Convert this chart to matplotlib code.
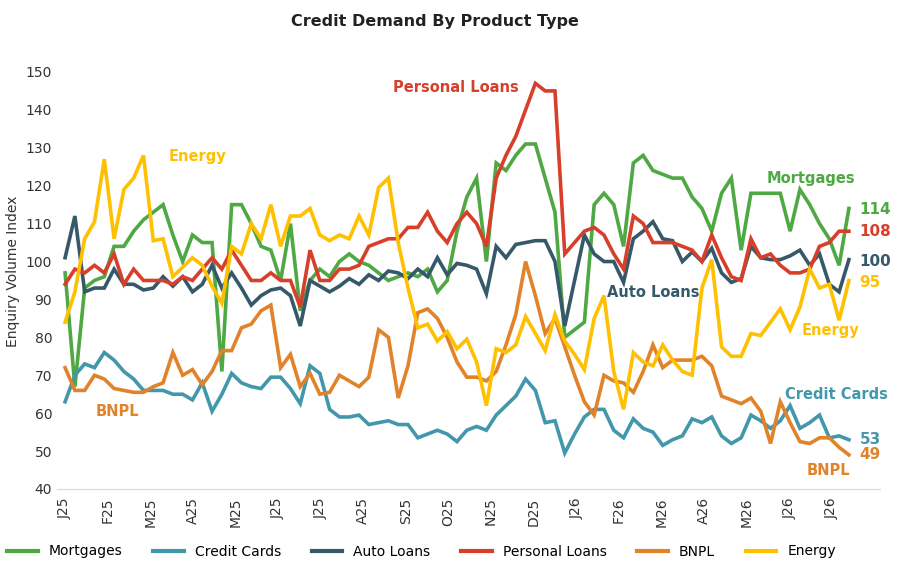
import matplotlib
matplotlib.use("Agg")
import matplotlib.pyplot as plt
from matplotlib.lines import Line2D

# weekly index values, Jan 2025 .. mid Jul 2026
mortgages = [97, 67, 93, 95, 96, 104, 104, 108, 111, 113, 115, 107, 100, 107, 105, 105, 71, 115, 115, 110,
             104, 103, 95, 110, 87, 95, 98, 96, 100, 102, 100, 99, 97, 95, 96, 97, 96, 98, 92, 95,
             108, 117, 122, 100, 126, 124, 128, 131, 131, 122, 113, 80, 82, 84, 115, 118, 115, 104, 126, 128,
             124, 123, 122, 122, 117, 114, 108, 118, 122, 103, 118, 118, 118, 118, 108, 119, 115, 110, 106, 99, 114]
credit_cards = [63, 70, 73, 72, 76, 74, 71, 69, 66, 66, 66, 65, 65, 63.5, 68, 60.5, 65, 70.5, 68, 67,
                66.5, 69.5, 69.5, 66.5, 62.5, 72.5, 70.5, 61, 59, 59, 59.5, 57, 57.5, 58, 57, 57, 53.5, 54.5, 55.5, 54.5,
                52.5, 55.5, 56.5, 55.5, 59.5, 62, 64.5, 69, 66, 57.5, 58, 49.5, 54.5, 59, 61, 61, 55.5, 53.5, 58.5, 56,
                55, 51.5, 53, 54, 58.5, 57.5, 59, 54, 52, 53.5, 59.5, 58, 56, 58, 62, 56, 57.5, 59.5, 53.5, 54, 53]
auto_loans = [101, 112, 92, 93, 93, 98, 94, 94, 92.5, 93, 96, 93.5, 96, 92, 94, 99, 93, 97, 93, 88.5,
              91, 92.5, 93, 91, 83, 95, 93.5, 92, 93.5, 95.5, 94, 96.5, 95, 97.5, 97, 95.5, 98, 96, 101, 96.5,
              99.5, 99, 98, 91.5, 104, 101, 104.5, 105, 105.5, 105.5, 100, 83, 95, 107, 102, 100, 100, 94.5, 106, 108,
              110.5, 106, 105.5, 100, 102.5, 100, 103.5, 97, 94.5, 95.5, 104, 101, 100.5, 100.5, 101.5, 103, 99, 102, 94, 92, 100.5]
personal_loans = [94, 98, 97, 99, 97, 102, 94, 98, 95, 95, 95, 94, 96, 95, 98, 101, 98, 103, 99, 95,
                  95, 97, 95, 95, 88, 103, 95, 95, 98, 98, 99, 104, 105, 106, 106, 109, 109, 113, 108, 105,
                  110, 113, 110, 104, 122, 128, 133, 140, 147, 145, 145, 102, 105, 108, 109, 107, 102, 98, 112, 110,
                  105, 105, 105, 104, 103, 100, 107, 101, 96, 95, 106, 101, 102, 99, 97, 97, 98, 104, 105, 108, 108]
bnpl = [72, 66, 66, 70, 69, 66.5, 66, 65.5, 65.5, 67, 68, 76, 70, 71.5, 67.5, 71, 76.5, 76.5, 82.5, 83.5,
        87, 88.5, 72, 75.5, 67, 70.5, 65, 65.5, 70, 68.5, 67, 69.5, 82, 80, 64, 72.5, 86.5, 87.5, 85, 80,
        73.5, 69.5, 69.5, 68.5, 71, 78, 86, 100, 91, 81, 85, 77.5, 70, 63, 59.5, 70, 68.5, 68, 65.5, 71,
        78, 72, 74, 74, 74, 75, 72.5, 64.5, 63.5, 62.5, 64, 60.5, 52, 63, 57.5, 52.5, 52, 53.5, 53.5, 51, 49]
energy = [84, 92, 106, 110.5, 127, 106, 119, 122, 128, 105.5, 106, 96, 98.5, 101, 99, 93.5, 89, 104, 102, 110,
          106, 115, 104, 112, 112, 114, 107, 105.5, 107, 106, 112, 107, 119.5, 122, 105, 93, 82.5, 83.5, 79, 81.5,
          77, 79.5, 73.5, 62, 77, 76, 78, 85.5, 81, 76.5, 86, 79, 75.5, 71.5, 85, 91, 71, 61, 76, 73.5,
          72.5, 78, 74, 71, 70, 93, 100.5, 77.5, 75, 75, 81, 80.5, 84, 87.5, 82, 88, 98, 93, 94, 84.5, 95]

month_labels = ["J25", "F25", "M25", "A25", "M25", "J25", "J25", "A25", "S25", "O25",
                "N25", "D25", "J26", "F26", "M26", "A26", "M26", "J26", "J26"]

series = [
    ("Mortgages", mortgages, "#4ea843"),
    ("Credit Cards", credit_cards, "#4397ab"),
    ("Auto Loans", auto_loans, "#36596a"),
    ("Personal Loans", personal_loans, "#d83f2b"),
    ("BNPL", bnpl, "#e0832a"),
    ("Energy", energy, "#ffc000"),
]

# one point per week, x in months
x = [i * 0.23 for i in range(len(mortgages))]

fig = plt.figure(figsize=(8.97, 5.71), dpi=100)
ax = fig.add_axes([57 / 897, (571 - 489) / 571, 823 / 897, (489 - 53) / 571])

for name, vals, col in series:
    ax.plot(x, vals, color=col, lw=2.6, solid_joinstyle="miter")

ax.set_xlim(-0.19, 19.13)
ax.set_ylim(40, 155)
ax.set_yticks(range(40, 151, 10))
ax.set_xticks(range(len(month_labels)))
ax.set_xticklabels(month_labels, rotation=90, fontsize=10, color="#333333")
ax.tick_params(axis="y", labelsize=10, colors="#333333", length=0)
ax.tick_params(axis="x", length=0, pad=6)
for s in ["top", "right", "left"]:
    ax.spines[s].set_visible(False)
ax.spines["bottom"].set_color("#d9d9d9")
ax.set_ylabel("Enquiry Volume Index", fontsize=10, color="#333333")

fig.suptitle("Credit Demand By Product Type", x=0.485, y=0.975, fontsize=11.5, fontweight="bold", color="#222222")

cols = {n: c for n, _, c in series}
notes = [
    ("Personal Loans", 9.18, 145.8, cols["Personal Loans"]),
    ("Energy", 3.1, 127.6, cols["Energy"]),
    ("BNPL", 1.24, 60.5, cols["BNPL"]),
    ("Mortgages", 17.5, 122, cols["Mortgages"]),
    ("Auto Loans", 13.8, 91.7, cols["Auto Loans"]),
    ("Energy", 17.96, 81.7, cols["Energy"]),
    ("Credit Cards", 18.1, 65, cols["Credit Cards"]),
    ("BNPL", 17.93, 45, cols["BNPL"]),
]
for txt, nx, ny, c in notes:
    ax.text(nx, ny, txt, color=c, fontsize=10.5, fontweight="bold", ha="center", va="center")

ends = [(mortgages, 113.6), (personal_loans, 108), (auto_loans, 100), (energy, 94.5),
        (credit_cards, 53), (bnpl, 49)]
for (vals, ypos), (_, _, c) in zip(ends, [series[0], series[3], series[2], series[5], series[1], series[4]]):
    ax.text(18.65, ypos, f"{vals[-1]:.0f}", color=c, fontsize=11, fontweight="bold", va="center")

handles = [Line2D([0], [0], color=c, lw=3) for _, _, c in series]
fig.legend(handles, [n for n, _, _ in series], loc="lower center", ncol=6, frameon=False,
           bbox_to_anchor=(0.47, 0.0), fontsize=10, handlelength=2.2, columnspacing=2.2)

fig.savefig("out.png", dpi=100)
